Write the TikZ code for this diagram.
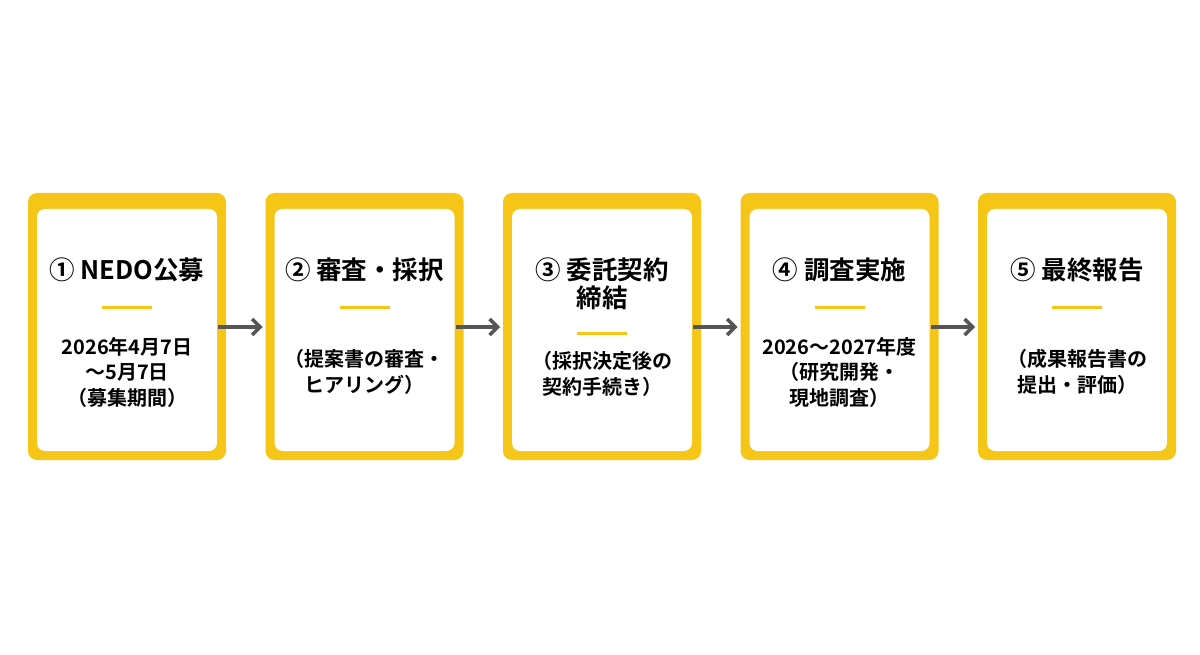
\documentclass[tikz,border=0pt]{standalone}
\usepackage{fontspec}
\setmainfont{Noto Sans CJK JP}[BoldFont={Noto Sans CJK JP Bold}]
\usetikzlibrary{arrows.meta}
\definecolor{ylw}{HTML}{F5C518}
\definecolor{arr}{HTML}{555555}
\begin{document}
\begin{tikzpicture}[x=1pt,y=-1pt,
  ttl/.style={font=\bfseries\fontsize{25.5}{28}\selectfont,align=center,text=black},
  bdy/.style={font=\bfseries\fontsize{20}{25.5}\selectfont,align=center,text=black},
  con/.style={draw=arr,line width=4pt,-{Straight Barb[length=8pt,width=16pt,line width=3.5pt]}}]
\useasboundingbox[fill=white] (0,0) rectangle (1200,655);
\foreach \i in {0,...,4}{
  \pgfmathsetmacro{\x}{28+237.5*\i}
  \fill[ylw,rounded corners=9pt] (\x,193) rectangle ++(198,267);
  \fill[white,rounded corners=8pt] (\x+9,209) rectangle ++(180,242);
  \node[draw=none,minimum width=198pt,minimum height=267pt,anchor=north west] (b\i) at (\x,193) {};
}
\foreach \i/\y in {0/306,1/306,2/332,3/306,4/306}{
  \fill[ylw] ([xshift=-25pt]b\i.north |- 0,\y) rectangle ++(50,3);
}
\node[ttl] (t0) at (127,270) {① NEDO公募};
\node[bdy] (d0) at (127,372) {2026年4月7日\\～5月7日\\（募集期間）};
\node[ttl] (t1) at (364.5,270) {② 審査・採択};
\node[bdy] (d1) at (364.5,372) {（提案書の審査・\\ヒアリング）};
\node[ttl] (t2) at (602,284) {③ 委託契約\\締結};
\node[bdy] (d2) at (602,374) {（採択決定後の\\契約手続き）};
\node[ttl] (t3) at (839.5,270) {④ 調査実施};
\node[bdy] (d3) at (839.5,372) {2026～2027年度\\（研究開発・\\現地調査）};
\node[ttl] (t4) at (1077,270) {⑤ 最終報告};
\node[bdy] (d4) at (1077,372) {（成果報告書の\\提出・評価）};
\foreach \a/\b in {0/1,1/2,2/3,3/4}{
  \draw[con] ([xshift=-8pt]b\a.east |- 0,327) -- ([xshift=-3pt]b\b.west |- 0,327);
}
\end{tikzpicture}
\end{document}
